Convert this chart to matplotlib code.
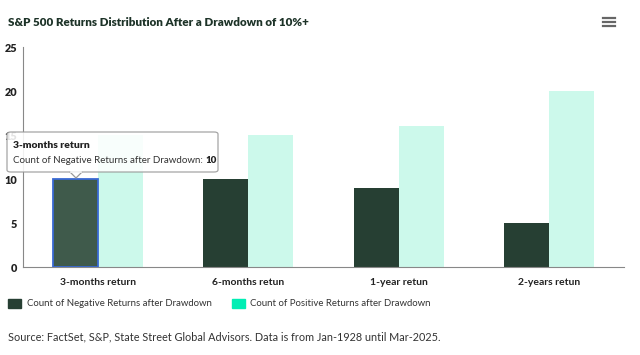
import matplotlib.pyplot as plt
from matplotlib.patches import FancyBboxPatch, Polygon, Rectangle
from matplotlib.lines import Line2D
import numpy as np

plt.rcParams['font.family'] = ['Lato', 'DejaVu Sans']

categories = ['3-months return', '6-months retun', '1-year retun', '2-years retun']
negative = [10, 10, 9, 5]
positive = [15, 15, 16, 20]
neg_label = 'Count of Negative Returns after Drawdown'
pos_label = 'Count of Positive Returns after Drawdown'
hovered = 0

W, H = 640, 355
fig = plt.figure(figsize=(6.4, 3.55), dpi=100)
ax = fig.add_axes([23 / W, 1 - 267 / H, (624 - 23) / W, (267 - 47) / H])

dark = '#263f33'
dark_hover = '#3f5a4b'
mint = '#00eeb4'
mint_faded = '#ccf9eb'

x = np.arange(len(categories))
w = 0.3
for i in x:
    if i == hovered:
        ax.bar(i - w / 2, negative[i], w, color=dark_hover, edgecolor='#3a6ad4', linewidth=1.3, zorder=3)
    else:
        ax.bar(i - w / 2, negative[i], w, color=dark, zorder=2)
ax.bar(x + w / 2, positive, w, color=mint_faded, zorder=2)

ax.set_xlim(-0.5, 3.5)
ax.set_ylim(0, 25)
ax.set_yticks([0, 5, 10, 15, 20, 25])
ax.set_xticks(x)
ax.set_xticklabels(categories, fontweight='bold', fontsize=7.5, color='#222222')
for t in ax.get_yticklabels():
    t.set_fontweight('heavy')
ax.tick_params(axis='y', labelsize=7.8, length=0, pad=4, colors='#222222')
ax.tick_params(axis='x', length=0, pad=8)
for s in ['top', 'right']:
    ax.spines[s].set_visible(False)
ax.spines['left'].set_color('#888888')
ax.spines['bottom'].set_color('#888888')
ax.spines['left'].set_linewidth(0.8)
ax.spines['bottom'].set_linewidth(0.8)

# title
fig.text(8 / W, 1 - 22 / H, 'S&P 500 Returns Distribution After a Drawdown of 10%+',
         fontsize=8.4, fontweight='heavy', color='#1d3328', va='center')

# menu icon
for yy in [18, 22, 26]:
    fig.add_artist(Line2D([603 / W, 615 / W], [1 - yy / H, 1 - yy / H], color='#666666', lw=1.6))

# legend
fig.add_artist(Rectangle((8 / W, 1 - 308 / H), 13 / W, 9 / H, color=dark))
fig.text(27 / W, 1 - 303.5 / H, neg_label, fontsize=6.9, color='#333333', va='center')
fig.add_artist(Rectangle((232 / W, 1 - 308 / H), 13 / W, 9 / H, color=mint))
fig.text(250 / W, 1 - 303.5 / H, pos_label, fontsize=6.9, color='#333333', va='center')

# source
fig.text(8 / W, 1 - 337 / H,
         'Source: FactSet, S&P, State Street Global Advisors. Data is from Jan-1928 until Mar-2025.',
         fontsize=7.8, color='#333333', va='center')

# tooltip
bx0, by0, bx1, by1 = 7, 132, 218, 172
box = FancyBboxPatch((bx0 / W, 1 - by1 / H), (bx1 - bx0) / W, (by1 - by0) / H,
                     boxstyle='round,pad=0,rounding_size=0.006', transform=fig.transFigure,
                     facecolor='white', edgecolor='#999999', linewidth=0.9, alpha=0.88, zorder=10)
fig.add_artist(box)
tip = Polygon([[70 / W, 1 - by1 / H], [82 / W, 1 - by1 / H], [76 / W, 1 - 178 / H]],
              closed=True, transform=fig.transFigure, facecolor='white', edgecolor='#999999',
              linewidth=0.9, zorder=10)
fig.add_artist(tip)
fig.add_artist(Line2D([70.6 / W, 81.4 / W], [1 - by1 / H, 1 - by1 / H], color='white', lw=1.2, zorder=11))
fig.text(13 / W, 1 - 146 / H, categories[hovered], fontsize=7.5, fontweight='heavy',
         color='#222222', va='center', zorder=12)
t1 = fig.text(13 / W, 1 - 160 / H, neg_label + ': ', fontsize=7.0, color='#333333', va='center', zorder=12)
fig.canvas.draw()
bb = t1.get_window_extent()
fig.text(bb.x1 / W, 1 - 160 / H, str(negative[hovered]), fontsize=7.0, fontweight='heavy',
         color='#222222', va='center', zorder=12)

fig.savefig('out.png', dpi=100)
